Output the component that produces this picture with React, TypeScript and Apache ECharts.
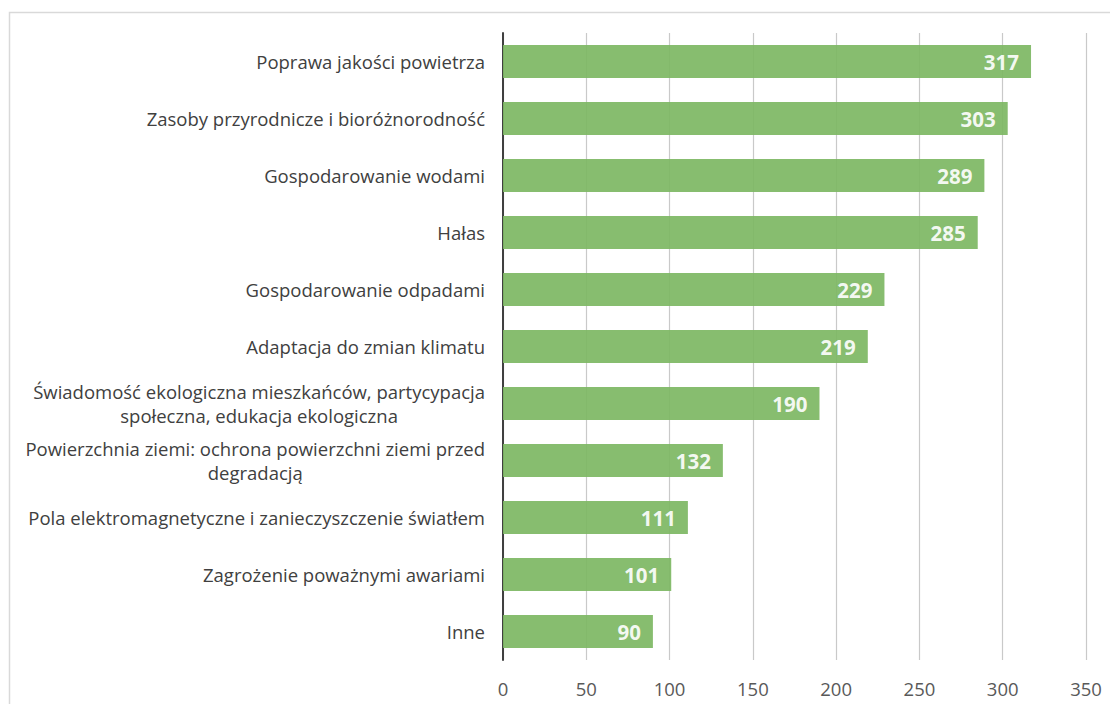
import React, { useEffect, useRef } from "react";
import * as echarts from "echarts";

const categories: string[] = [
  "Poprawa jakości powietrza",
  "Zasoby przyrodnicze i bioróżnorodność",
  "Gospodarowanie wodami",
  "Hałas",
  "Gospodarowanie odpadami",
  "Adaptacja do zmian klimatu",
  "Świadomość ekologiczna mieszkańców, partycypacja\nspołeczna, edukacja ekologiczna",
  "Powierzchnia ziemi: ochrona powierzchni ziemi przed\ndegradacją",
  "Pola elektromagnetyczne i zanieczyszczenie światłem",
  "Zagrożenie poważnymi awariami",
  "Inne",
];
const values: number[] = [317, 303, 289, 285, 229, 219, 190, 132, 111, 101, 90];
const axisMin = 0;
const axisMax = 350;
const axisInterval = 50;

export default function App() {
  const ref = useRef<HTMLDivElement>(null);
  useEffect(() => {
    document.body.style.margin = "0";
    if (!ref.current) return;
    const chart = echarts.init(ref.current, undefined, { renderer: "svg" });
    const font = "'Open Sans', 'Noto Sans', sans-serif";
    chart.setOption({
      animation: false,
      backgroundColor: "#ffffff",
      graphic: [
        {
          type: "rect",
          shape: { x: 9.5, y: 12.5, width: 1120, height: 720 },
          style: { fill: "none", stroke: "#d9d9d9", lineWidth: 1.5 },
          silent: true,
        },
      ],
      grid: { left: 503, right: 24, top: 33, bottom: 44, containLabel: false },
      xAxis: {
        type: "value",
        min: axisMin,
        max: axisMax,
        interval: axisInterval,
        axisLine: { show: false },
        axisTick: { show: false },
        axisLabel: { color: "#595959", fontSize: 18.5, fontFamily: font, margin: 19 },
        splitLine: { show: true, lineStyle: { color: "#c9c9c9", width: 1.2 } },
      },
      yAxis: {
        type: "category",
        inverse: true,
        data: categories,
        axisLine: { show: true, lineStyle: { color: "#404040", width: 2 } },
        axisTick: { show: false },
        axisLabel: {
          color: "#404040",
          fontSize: 18.5,
          fontFamily: font,
          margin: 18,
          lineHeight: 24,
          formatter: (v: string) =>
            v.indexOf("\n") >= 0
              ? v
                  .split("\n")
                  .map((l) => "{c|" + l + "}")
                  .join("\n")
              : v,
          rich: {
            c: {
              align: "center",
              color: "#404040",
              fontSize: 18.5,
              fontFamily: font,
              lineHeight: 24,
            },
          },
        },
      },
      series: [
        {
          type: "bar",
          data: values,
          barWidth: 33,
          itemStyle: { color: "#7db763", opacity: 0.92 },
          label: {
            show: true,
            position: "insideRight",
            distance: 12,
            color: "#ffffff",
            fontWeight: "bold",
            fontSize: 20.5,
            fontFamily: font,
          },
        },
      ],
    });
    return () => chart.dispose();
  }, []);
  return <div ref={ref} style={{ width: 1110, height: 704 }} />;
}
